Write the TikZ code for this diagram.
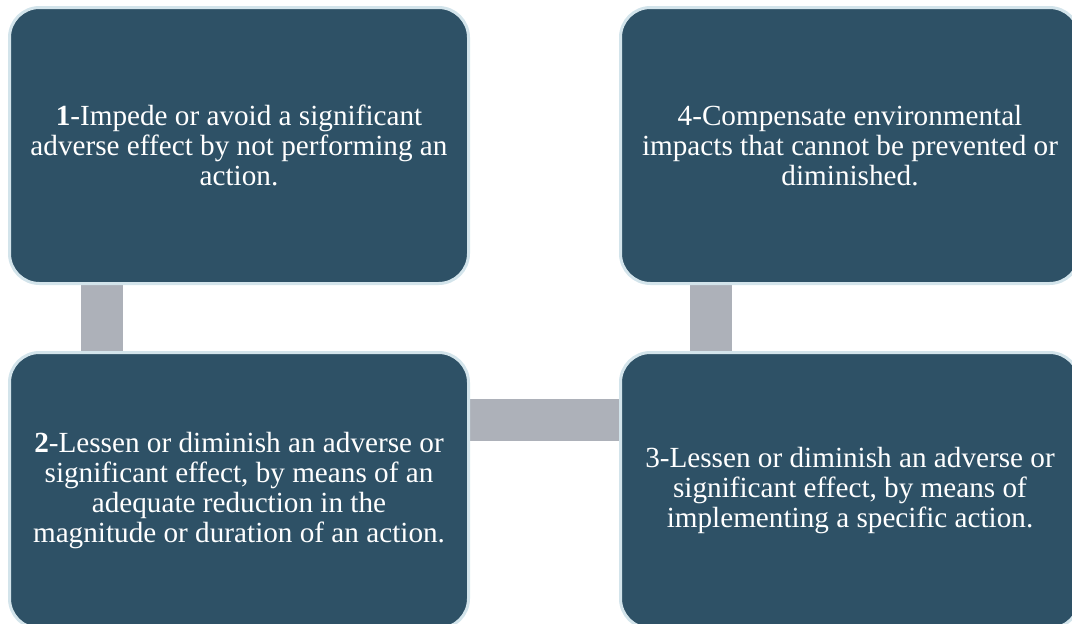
\documentclass[tikz,border=0pt]{standalone}
\usepackage{fontspec}
\setmainfont{Liberation Serif}
\usetikzlibrary{backgrounds}
\definecolor{boxfill}{HTML}{2E5166}
\definecolor{boxedge}{HTML}{D3E4EB}
\definecolor{linkgray}{HTML}{ADB1B9}
\tikzset{
  stage/.style={rectangle, rounded corners=30pt, fill=boxfill, draw=boxedge,
    line width=3pt, minimum width=459pt, minimum height=276pt, inner sep=0pt,
    align=center, text=white, font=\fontsize{29.2}{30.3}\selectfont},
  link/.style={draw=linkgray, line width=42pt}
}
\begin{document}
\begin{tikzpicture}[x=1pt,y=-1pt]
\useasboundingbox (0,0) rectangle (1072,624);
\clip (0,0) rectangle (1072,624);
\node[stage] (b1) at (239,145.5) {\textbf{1}-Impede or avoid a significant\\adverse effect by not performing an\\action.};
\node[stage] (b2) at (239,490.5) {\textbf{2}-Lessen or diminish an adverse or\\significant effect, by means of an\\adequate reduction in the\\magnitude or duration of an action.};
\node[stage] (b3) at (850,490.5) {3-Lessen or diminish an adverse or\\significant effect, by means of\\implementing a specific action.};
\node[stage] (b4) at (850,145.5) {4-Compensate environmental\\impacts that cannot be prevented or\\diminished.};
\begin{scope}[on background layer]
  \draw[link] ([xshift=93.5pt]b1.south west) -- ([xshift=93.5pt]b2.north west);
  \draw[link] ([yshift=-68.5pt]b2.north east) -- ([yshift=-68.5pt]b3.north west);
  \draw[link] ([xshift=91.5pt]b3.north west) -- ([xshift=91.5pt]b4.south west);
\end{scope}
\end{tikzpicture}
\end{document}
